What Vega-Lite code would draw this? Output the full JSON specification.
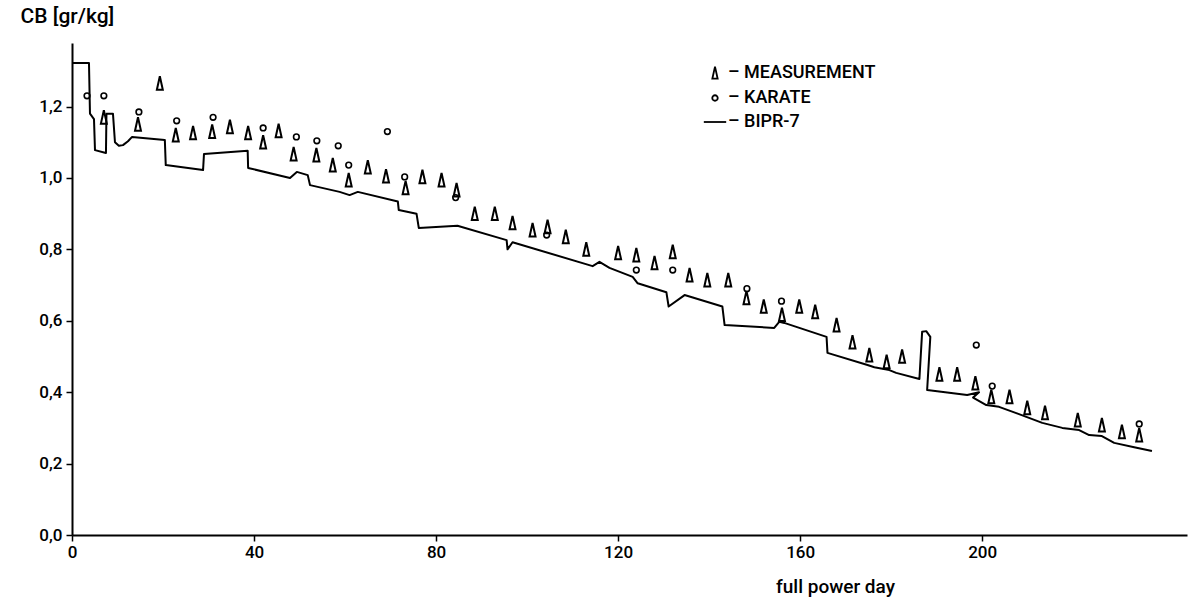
{
  "$schema": "https://vega.github.io/schema/vega-lite/v6.json",
  "width": 1115,
  "height": 492,
  "autosize": {"type": "none"},
  "padding": {"left": 72, "top": 43, "right": 8, "bottom": 66},
  "background": "white",
  "config": {
    "view": {"stroke": null},
    "font": "Roboto",
    "axis": {"grid": false, "domainColor": "black", "domainWidth": 2, "tickColor": "black", "tickWidth": 1.5, "tickSize": 6, "labelColor": "black", "titleColor": "black", "labelFont": "Roboto", "titleFont": "Roboto", "labelFontSize": 17, "labelFontWeight": 500, "titleFontSize": 19, "titleFontWeight": 500}
  },
  "datasets": {
    "measurement": [
      {"day": 7.0, "value": 1.17}, {"day": 14.5, "value": 1.15}, {"day": 19.3, "value": 1.265},
      {"day": 22.8, "value": 1.12}, {"day": 26.6, "value": 1.126}, {"day": 30.8, "value": 1.13},
      {"day": 34.7, "value": 1.143}, {"day": 38.7, "value": 1.126}, {"day": 42.0, "value": 1.1},
      {"day": 45.4, "value": 1.132}, {"day": 48.7, "value": 1.067}, {"day": 53.7, "value": 1.064},
      {"day": 57.3, "value": 1.036}, {"day": 60.8, "value": 0.994}, {"day": 65.0, "value": 1.03},
      {"day": 69.0, "value": 1.005}, {"day": 73.3, "value": 0.972}, {"day": 77.0, "value": 1.003},
      {"day": 81.2, "value": 0.994}, {"day": 84.5, "value": 0.966}, {"day": 88.5, "value": 0.9},
      {"day": 92.9, "value": 0.9}, {"day": 96.8, "value": 0.874}, {"day": 101.2, "value": 0.854},
      {"day": 104.5, "value": 0.863}, {"day": 108.5, "value": 0.835}, {"day": 113.0, "value": 0.8},
      {"day": 120.0, "value": 0.79}, {"day": 124.0, "value": 0.784}, {"day": 128.0, "value": 0.762},
      {"day": 132.0, "value": 0.793}, {"day": 135.7, "value": 0.728}, {"day": 139.6, "value": 0.714},
      {"day": 144.2, "value": 0.714}, {"day": 148.2, "value": 0.664}, {"day": 152.0, "value": 0.64},
      {"day": 156.0, "value": 0.617}, {"day": 159.8, "value": 0.64}, {"day": 163.3, "value": 0.625},
      {"day": 168.0, "value": 0.588}, {"day": 171.5, "value": 0.54}, {"day": 175.2, "value": 0.504},
      {"day": 179.0, "value": 0.485}, {"day": 182.4, "value": 0.5}, {"day": 190.6, "value": 0.45},
      {"day": 194.5, "value": 0.45}, {"day": 198.5, "value": 0.425}, {"day": 202.0, "value": 0.387},
      {"day": 206.0, "value": 0.387}, {"day": 209.9, "value": 0.356}, {"day": 213.8, "value": 0.342},
      {"day": 221.0, "value": 0.322}, {"day": 226.3, "value": 0.308}, {"day": 230.7, "value": 0.289},
      {"day": 234.5, "value": 0.28}
    ],
    "karate": [
      {"day": 3.3, "value": 1.23}, {"day": 7.0, "value": 1.23}, {"day": 14.7, "value": 1.185},
      {"day": 23.0, "value": 1.16}, {"day": 31.0, "value": 1.17}, {"day": 42.0, "value": 1.14},
      {"day": 49.3, "value": 1.115}, {"day": 53.8, "value": 1.104}, {"day": 58.5, "value": 1.09},
      {"day": 60.8, "value": 1.036}, {"day": 69.3, "value": 1.13}, {"day": 73.1, "value": 1.003},
      {"day": 84.3, "value": 0.945}, {"day": 104.3, "value": 0.84}, {"day": 124.0, "value": 0.742},
      {"day": 132.0, "value": 0.742}, {"day": 148.3, "value": 0.69}, {"day": 155.9, "value": 0.655},
      {"day": 198.7, "value": 0.532}, {"day": 202.2, "value": 0.417}, {"day": 234.5, "value": 0.311}
    ],
    "bipr": [
      {"day": 0, "value": 1.322}, {"day": 3.73, "value": 1.322}, {"day": 3.95, "value": 1.18},
      {"day": 4.83, "value": 1.165}, {"day": 5.05, "value": 1.078}, {"day": 7.46, "value": 1.07},
      {"day": 7.57, "value": 1.18}, {"day": 9.0, "value": 1.18}, {"day": 9.44, "value": 1.1},
      {"day": 10.3, "value": 1.09}, {"day": 11.2, "value": 1.092}, {"day": 12.3, "value": 1.103},
      {"day": 13.2, "value": 1.115}, {"day": 20.4, "value": 1.106}, {"day": 20.6, "value": 1.036},
      {"day": 28.8, "value": 1.022}, {"day": 29.0, "value": 1.067}, {"day": 38.6, "value": 1.076},
      {"day": 38.7, "value": 1.028}, {"day": 47.9, "value": 1.0}, {"day": 49.4, "value": 1.017},
      {"day": 51.8, "value": 1.008}, {"day": 52.3, "value": 0.98}, {"day": 58.8, "value": 0.961},
      {"day": 61.0, "value": 0.952}, {"day": 62.8, "value": 0.961}, {"day": 71.6, "value": 0.934},
      {"day": 71.8, "value": 0.91}, {"day": 75.7, "value": 0.9}, {"day": 76.2, "value": 0.86},
      {"day": 84.7, "value": 0.866}, {"day": 95.5, "value": 0.826}, {"day": 95.7, "value": 0.8},
      {"day": 96.8, "value": 0.82}, {"day": 114.4, "value": 0.753}, {"day": 115.9, "value": 0.765},
      {"day": 118.1, "value": 0.748}, {"day": 123.2, "value": 0.723}, {"day": 124.3, "value": 0.705},
      {"day": 130.6, "value": 0.68}, {"day": 131.1, "value": 0.64}, {"day": 134.6, "value": 0.672},
      {"day": 142.9, "value": 0.64}, {"day": 143.4, "value": 0.588}, {"day": 154.3, "value": 0.58},
      {"day": 155.4, "value": 0.597}, {"day": 156.5, "value": 0.594}, {"day": 165.8, "value": 0.555},
      {"day": 166.0, "value": 0.51}, {"day": 174.8, "value": 0.476}, {"day": 176.3, "value": 0.47},
      {"day": 179.6, "value": 0.462}, {"day": 181.1, "value": 0.454}, {"day": 186.2, "value": 0.437},
      {"day": 186.8, "value": 0.569}, {"day": 187.7, "value": 0.571}, {"day": 188.6, "value": 0.555},
      {"day": 187.9, "value": 0.406}, {"day": 196.7, "value": 0.392}, {"day": 199.3, "value": 0.4},
      {"day": 198.0, "value": 0.385}, {"day": 200.9, "value": 0.364}, {"day": 203.7, "value": 0.359},
      {"day": 209.7, "value": 0.331}, {"day": 213.2, "value": 0.314}, {"day": 217.6, "value": 0.3},
      {"day": 221.3, "value": 0.294}, {"day": 223.5, "value": 0.28}, {"day": 226.3, "value": 0.277},
      {"day": 229.0, "value": 0.258}, {"day": 233.4, "value": 0.246}, {"day": 237.3, "value": 0.235}
    ]
  },
  "encoding": {
    "x": {
      "field": "day", "type": "quantitative",
      "scale": {"domain": [0, 245], "nice": false, "zero": true},
      "axis": {"values": [0, 40, 80, 120, 160, 200], "title": "full power day", "titleAlign": "center", "titleAnchor": null, "titleX": 763, "titleY": 57, "titleBaseline": "alphabetic", "labelPadding": 3, "labelFlush": false}
    },
    "y": {
      "field": "value", "type": "quantitative",
      "scale": {"domain": [0, 1.378], "nice": false},
      "axis": {"values": [0, 0.2, 0.4, 0.6, 0.8, 1.0, 1.2], "format": ".1f", "labelExpr": "replace(datum.label, '.', ',')", "title": "CB [gr/kg]", "titleFontSize": 21, "titleAngle": 0, "titleAlign": "left", "titleAnchor": null, "titleX": -52, "titleY": -21, "titleBaseline": "alphabetic", "labelPadding": 4}
    },
    "color": {
      "datum": "MEASUREMENT",
      "scale": {"domain": ["MEASUREMENT", "KARATE", "BIPR-7"], "range": ["black", "black", "black"]},
      "legend": {
        "title": null, "orient": "none", "legendX": 634, "legendY": 21,
        "labelFont": "Roboto", "labelFontSize": 18, "labelFontWeight": 500, "labelColor": "black", "labelLimit": 0,
        "labelExpr": "'– ' + datum.label", "symbolSize": 500, "rowPadding": 6, "labelOffset": 4,
        "symbolStrokeWidth": 1.8,
        "encode": {
          "symbols": {
            "update": {
              "shape": {"signal": "datum.value === 'BIPR-7' ? 'stroke' : datum.value === 'KARATE' ? 'circle' : 'M0,-1L0.42,0.9L-0.42,0.9Z'"},
              "size": {"signal": "datum.value === 'BIPR-7' ? 500 : datum.value === 'KARATE' ? 30 : 160"},
              "fill": {"value": "transparent"},
              "stroke": {"value": "black"},
              "strokeWidth": {"value": 1.8}
            }
          }
        }
      }
    }
  },
  "layer": [
    {
      "data": {"name": "bipr"},
      "mark": {"type": "line", "stroke": "black", "strokeWidth": 2, "strokeJoin": "round"},
      "encoding": {"color": {"datum": "BIPR-7"}, "order": {"value": null}}
    },
    {
      "data": {"name": "karate"},
      "mark": {"type": "point", "shape": "circle", "filled": false, "size": 32, "strokeWidth": 1.6, "opacity": 1},
      "encoding": {"color": {"datum": "KARATE"}}
    },
    {
      "data": {"name": "measurement"},
      "mark": {"type": "point", "shape": "M0,-1L0.42,0.9L-0.42,0.9Z", "filled": false, "size": 200, "strokeWidth": 2, "opacity": 1},
      "encoding": {"color": {"datum": "MEASUREMENT"}}
    }
  ]
}
